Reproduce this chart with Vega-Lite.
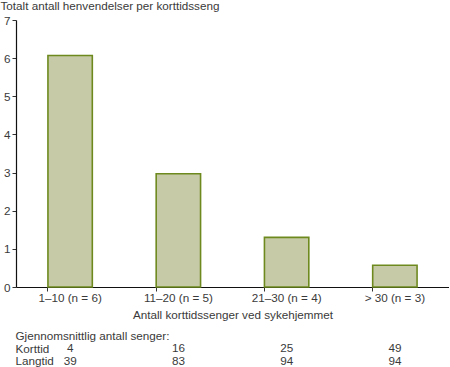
{
  "$schema": "https://vega.github.io/schema/vega-lite/v6.json",
  "padding": 0,
  "background": "white",
  "spacing": 7,
  "datasets": {
    "beds": [
      {"gruppe": "1–10 (n = 6)", "henvendelser": 6.07, "Korttid": 4, "Langtid": 39},
      {"gruppe": "11–20 (n = 5)", "henvendelser": 2.97, "Korttid": 16, "Langtid": 83},
      {"gruppe": "21–30 (n = 4)", "henvendelser": 1.3, "Korttid": 25, "Langtid": 94},
      {"gruppe": "> 30 (n = 3)", "henvendelser": 0.57, "Korttid": 49, "Langtid": 94}
    ]
  },
  "config": {
    "font": "Liberation Sans",
    "view": {"stroke": null},
    "axis": {
      "labelFont": "Liberation Sans",
      "titleFont": "Liberation Sans",
      "labelFontSize": 11.7,
      "titleFontSize": 11.7,
      "titleFontWeight": "normal",
      "labelColor": "#3a3a3a",
      "titleColor": "#3a3a3a",
      "domainColor": "#111111",
      "tickColor": "#333333",
      "grid": false
    }
  },
  "vconcat": [
    {
      "width": 433,
      "height": 267,
      "data": {"name": "beds"},
      "mark": {"type": "bar", "fill": "#c6caa6", "stroke": "#6e8a1f", "strokeWidth": 1.6},
      "encoding": {
        "x": {
          "field": "gruppe",
          "type": "nominal",
          "sort": null,
          "scale": {"paddingInner": 0.59, "paddingOuter": 0.295},
          "axis": {
            "title": "Antall korttidssenger ved sykehjemmet",
            "labelAngle": 0,
            "bandPosition": 0,
            "tickSize": 4,
            "labelPadding": 1,
            "titlePadding": 6,
            "domainWidth": 1.2
          }
        },
        "y": {
          "field": "henvendelser",
          "type": "quantitative",
          "scale": {"domain": [0, 7], "nice": false},
          "axis": {
            "title": "Totalt antall henvendelser per korttidsseng",
            "titleAngle": 0,
            "titleAlign": "left",
            "titleBaseline": "alphabetic",
            "titleX": -16,
            "titleY": -11,
            "values": [0, 1, 2, 3, 4, 5, 6, 7],
            "tickSize": 4,
            "labelPadding": 2,
            "domainWidth": 1.2
          }
        }
      }
    },
    {
      "width": 433,
      "height": 38,
      "data": {"name": "beds"},
      "transform": [{"fold": ["Korttid", "Langtid"], "as": ["rad", "antall"]}],
      "mark": {"type": "text", "fontSize": 11.7, "color": "#3a3a3a", "font": "Liberation Sans"},
      "encoding": {
        "x": {
          "field": "gruppe",
          "type": "nominal",
          "sort": null,
          "scale": {"type": "band", "paddingInner": 0.59, "paddingOuter": 0.295},
          "axis": null
        },
        "y": {
          "field": "rad",
          "type": "nominal",
          "scale": {"domain": ["Gjennomsnittlig antall senger:", "Korttid", "Langtid"]},
          "axis": {
            "title": null,
            "domain": false,
            "ticks": false,
            "tickSize": 0,
            "labelAlign": "left",
            "labelPadding": 1,
            "labelFontSize": 11.7
          }
        },
        "text": {"field": "antall", "type": "quantitative"}
      }
    }
  ]
}
